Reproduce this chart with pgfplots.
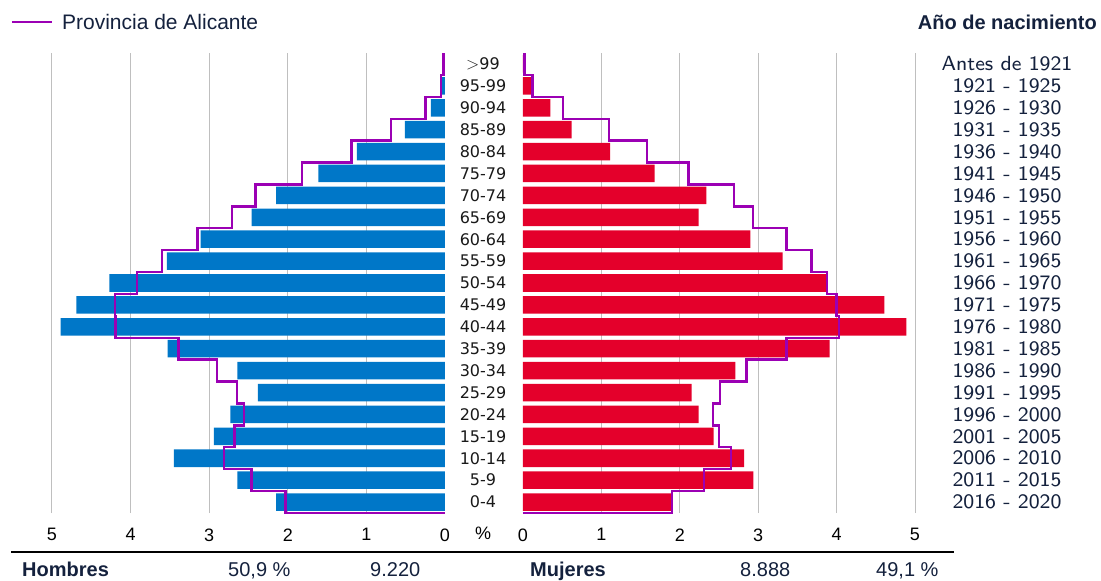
\documentclass[border=0pt]{standalone}
\usepackage{fontspec}
\setmainfont{Liberation Sans}
\newfontfamily\agefont{DejaVu Sans}
\newfontfamily\yearfont{lmsans8-regular.otf}
\usepackage{pgfplots}
\pgfplotsset{compat=1.18}

\definecolor{hblue}{HTML}{0077C8}
\definecolor{mred}{HTML}{E4002B}
\definecolor{prov}{HTML}{9B00B4}
\definecolor{navy}{HTML}{14213D}
\definecolor{gridgray}{HTML}{BFBFBF}

\pgfplotsset{
  pyr/.style={
    scale only axis, anchor=north west,
    width=393pt, height=460pt,
    xmin=0, xmax=5, ymin=-0.5, ymax=20.5,
    axis line style={draw=none},
    xtick={1,2,3,4,5}, extra x ticks={0},
    extra x tick style={grid=none},
    xmajorgrids, grid style={gridgray, line width=1pt},
    major tick length=0pt,
    ytick={0,...,20},
    clip=false,
    /pgf/number format/assume math mode=true,
    xticklabel style={font=\fontsize{18}{20}\selectfont, text=black, yshift=-12pt},
  },
  barstyle/.style={xbar, bar width=0.8, draw=none, forget plot},
  linestyle/.style={prov, line width=2.4pt, line join=miter, mark=none},
}

\begin{document}
\begin{tikzpicture}
\useasboundingbox (0,0) rectangle (1101pt,-581pt);

% Hombres
\begin{axis}[pyr, at={(52pt,-53pt)}, x dir=reverse,
  yticklabels={0-4,5-9,10-14,15-19,20-24,25-29,30-34,35-39,40-44,45-49,50-54,55-59,60-64,65-69,70-74,75-79,80-84,85-89,90-94,95-99,$>$99},
  yticklabel style={anchor=center, xshift=431pt, font=\agefont\fontsize{16}{18}\selectfont, text=black!90},
]
\addplot[barstyle, fill=hblue] coordinates {
  (2.15,0) (2.64,1) (3.45,2) (2.94,3) (2.73,4) (2.38,5) (2.64,6)
  (3.53,7) (4.89,8) (4.69,9) (4.27,10) (3.54,11) (3.11,12) (2.46,13)
  (2.15,14) (1.61,15) (1.12,16) (0.51,17) (0.18,18) (0.04,19) (0.01,20)
};
\addplot[linestyle] coordinates {
  (0,-0.5) (2.03,-0.5) (2.03,0.5) (2.46,0.5) (2.46,1.5) (2.81,1.5) (2.81,2.5)
  (2.68,2.5) (2.68,3.5) (2.56,3.5) (2.56,4.5) (2.65,4.5) (2.65,5.5) (2.90,5.5)
  (2.90,6.5) (3.39,6.5) (3.39,7.5) (4.19,7.5) (4.19,8.5) (4.20,8.5) (4.20,9.5)
  (3.92,9.5) (3.92,10.5) (3.60,10.5) (3.60,11.5) (3.15,11.5) (3.15,12.5)
  (2.71,12.5) (2.71,13.5) (2.41,13.5) (2.41,14.5) (1.82,14.5) (1.82,15.5)
  (1.19,15.5) (1.19,16.5) (0.69,16.5) (0.69,17.5) (0.25,17.5) (0.25,18.5)
  (0.05,18.5) (0.05,19.5) (0.02,19.5) (0.02,20.5)
};
\end{axis}

% Mujeres
\begin{axis}[pyr, at={(523pt,-53pt)}, width=392pt,
  yticklabel pos=right,
  yticklabels={2016 - 2020,2011 - 2015,2006 - 2010,2001 - 2005,1996 - 2000,1991 - 1995,1986 - 1990,1981 - 1985,1976 - 1980,1971 - 1975,1966 - 1970,1961 - 1965,1956 - 1960,1951 - 1955,1946 - 1950,1941 - 1945,1936 - 1940,1931 - 1935,1926 - 1930,1921 - 1925,Antes de 1921},
  yticklabel style={anchor=center, xshift=92pt, font=\yearfont\fontsize{20.5}{22}\selectfont, text=navy},
  legend style={at={(-1.315,1.067)}, anchor=west, draw=none, fill=none,
    font=\fontsize{21}{24}\selectfont, text=navy},
  legend image code/.code={\draw[#1] (0pt,0pt) -- (40pt,0pt); \path (47pt,0pt);},
]
\addplot[barstyle, fill=mred] coordinates {
  (1.89,0) (2.94,1) (2.82,2) (2.43,3) (2.24,4) (2.15,5) (2.71,6)
  (3.91,7) (4.89,8) (4.61,9) (3.87,10) (3.31,11) (2.90,12) (2.24,13)
  (2.34,14) (1.68,15) (1.11,16) (0.62,17) (0.35,18) (0.10,19) (0.01,20)
};
\addplot[linestyle] coordinates {
  (0,-0.5) (1.90,-0.5) (1.90,0.5) (2.31,0.5) (2.31,1.5) (2.65,1.5) (2.65,2.5)
  (2.50,2.5) (2.50,3.5) (2.42,3.5) (2.42,4.5) (2.51,4.5) (2.51,5.5) (2.85,5.5)
  (2.85,6.5) (3.36,6.5) (3.36,7.5) (4.03,7.5) (4.03,8.5) (4.00,8.5) (4.00,9.5)
  (3.88,9.5) (3.88,10.5) (3.68,10.5) (3.68,11.5) (3.36,11.5) (3.36,12.5)
  (2.93,12.5) (2.93,13.5) (2.69,13.5) (2.69,14.5) (2.11,14.5) (2.11,15.5)
  (1.58,15.5) (1.58,16.5) (1.10,16.5) (1.10,17.5) (0.51,17.5) (0.51,18.5)
  (0.12,18.5) (0.12,19.5) (0.02,19.5) (0.02,20.5)
};
\addlegendentry{Provincia de Alicante}
\end{axis}

\node[font=\fontsize{18}{20}\selectfont] at (483pt,-533pt) {\%};
\node[anchor=east, inner sep=0pt, font=\bfseries\fontsize{20}{22}\selectfont, text=navy] at (1097pt,-22pt) {Año de nacimiento};

\draw[black, line width=2pt] (11pt,-551.5pt) -- (954pt,-551.5pt);
\begin{scope}[every node/.style={anchor=base west, inner sep=0pt, text=navy, font=\fontsize{20}{22}\selectfont}]
  \node[font=\bfseries\fontsize{20}{22}\selectfont] at (22pt,-576pt) {Hombres};
  \node at (228pt,-576pt) {50,9 \%};
  \node at (370pt,-576pt) {9.220};
  \node[font=\bfseries\fontsize{20}{22}\selectfont] at (530pt,-576pt) {Mujeres};
  \node at (740pt,-576pt) {8.888};
  \node at (876pt,-576pt) {49,1 \%};
\end{scope}
\end{tikzpicture}
\end{document}
